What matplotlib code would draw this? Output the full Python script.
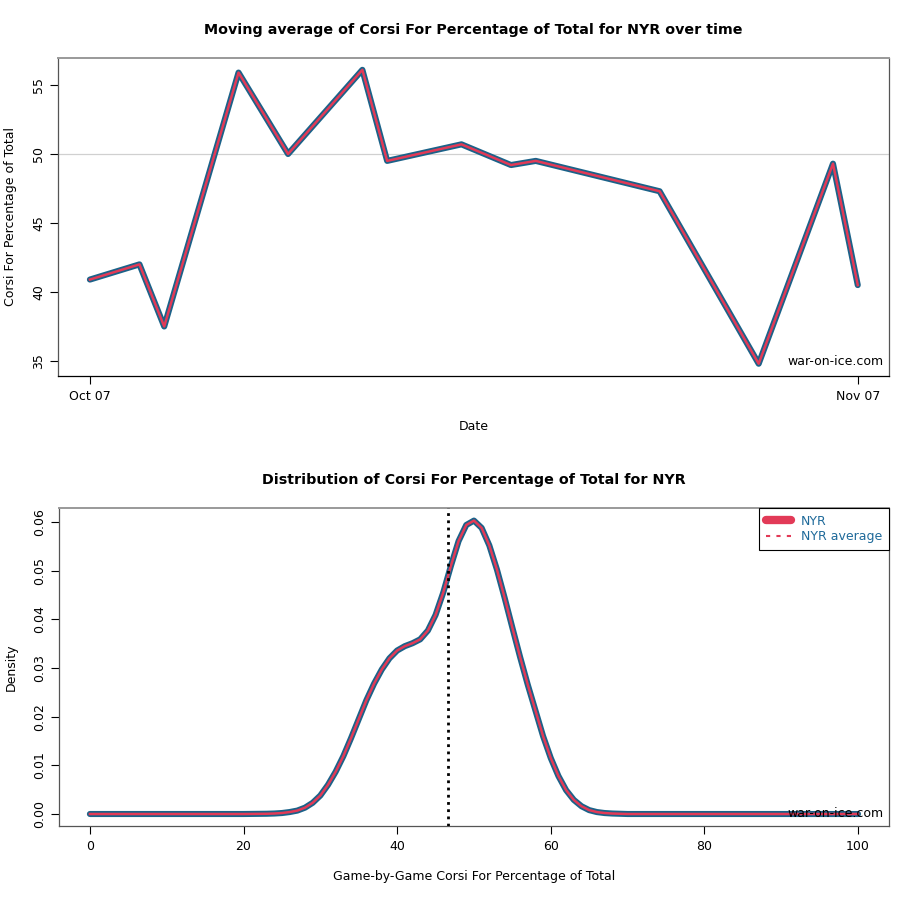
import matplotlib
matplotlib.use('Agg')
import matplotlib.pyplot as plt
import matplotlib.dates as mdates
from datetime import datetime

# moving average data
game_dates = ['2014-10-07', '2014-10-09', '2014-10-10', '2014-10-13', '2014-10-15',
              '2014-10-18', '2014-10-19', '2014-10-22', '2014-10-24', '2014-10-25',
              '2014-10-30', '2014-11-03', '2014-11-06', '2014-11-07']
moving_avg = [40.9, 42.0, 37.5, 55.9, 50.0, 56.1, 49.5, 50.7, 49.2, 49.5,
              47.3, 34.8, 49.3, 40.5]

# density curve
dens_x = [0, 10, 20, 23, 24, 25, 26, 27, 28, 29, 30, 31, 32, 33, 34, 35, 36, 37, 38, 39,
          40, 41, 42, 43, 44, 45, 46, 47, 48, 49, 50, 51, 52, 53, 54, 55, 56, 57,
          58, 59, 60, 61, 62, 63, 64, 65, 66, 67, 68, 69, 70, 80, 90, 100]
dens_y = [0.0, 0.0, 0.0, 0.00005, 0.0001, 0.0002, 0.0004, 0.0007, 0.0013, 0.0023,
          0.0038, 0.0060, 0.0087, 0.0119, 0.0156, 0.0195, 0.0234, 0.0268, 0.0297,
          0.0320, 0.0336, 0.0345, 0.0351, 0.0359, 0.0377, 0.0409, 0.0455, 0.0510,
          0.0561, 0.0594, 0.0603, 0.0588, 0.0552, 0.0502, 0.0444, 0.0383, 0.0323,
          0.0266, 0.0213, 0.0160, 0.0115, 0.0078, 0.0049, 0.0029, 0.0016, 0.0008,
          0.0004, 0.0002, 0.0001, 0.00005, 0.0, 0.0, 0.0, 0.0]
team_avg = 46.6

blue = '#1b6289'
red = '#e23a57'
txtblue = '#1f6a9a'

dates = [datetime.strptime(d, '%Y-%m-%d') for d in game_dates]

fig = plt.figure(figsize=(9.2, 9), dpi=100)

# ---- top: moving average
ax1 = fig.add_axes([0.063, 0.5822, 0.903, 0.3534])
ax1.axhline(50, color='#d0d0d0', lw=0.9, zorder=1)
ax1.plot(dates, moving_avg, color=blue, lw=4.4, solid_joinstyle='round',
         solid_capstyle='round', zorder=2)
ax1.plot(dates, moving_avg, color=red, lw=1.8, solid_joinstyle='round', zorder=3)
ax1.set_xlim(mdates.date2num(dates[0]) - 1.29, mdates.date2num(dates[-1]) + 1.25)
ax1.set_ylim(33.91, 56.96)
ax1.set_xticks([dates[0], dates[-1]])
ax1.xaxis.set_major_formatter(mdates.DateFormatter('%b %d'))
ax1.set_yticks([35, 40, 45, 50, 55])
ax1.axvspan(0, 0.008, transform=ax1.transAxes, color='#ececec', zorder=0)
ax1.set_title('Moving average of Corsi For Percentage of Total for NYR over time',
              fontsize=10.3, fontweight='bold', pad=17)
ax1.set_xlabel('Date', fontsize=9, labelpad=12)
ax1.set_ylabel('Corsi For Percentage of Total', fontsize=9, labelpad=11)
ax1.text(0.994, 0.025, 'war-on-ice.com', transform=ax1.transAxes, ha='right',
         va='bottom', fontsize=9)
for lab in ax1.get_yticklabels():
    lab.set_rotation(90)
    lab.set_va('center')

# ---- bottom: density
ax2 = fig.add_axes([0.064, 0.0822, 0.902, 0.3534])
ax2.plot(dens_x, dens_y, color=blue, lw=4.4, solid_joinstyle='round',
         solid_capstyle='round', zorder=2)
ax2.plot(dens_x, dens_y, color=red, lw=1.8, solid_joinstyle='round', zorder=3)
ax2.axvline(team_avg, color='black', lw=2, ls=(0, (1, 1.6)), zorder=4)
ax2.set_xlim(-4.04, 104.0)
ax2.set_ylim(-0.00247, 0.0629)
ax2.set_xticks([0, 20, 40, 60, 80, 100])
ax2.set_yticks([0.0, 0.01, 0.02, 0.03, 0.04, 0.05, 0.06])
ax2.set_yticklabels(['0.00', '0.01', '0.02', '0.03', '0.04', '0.05', '0.06'])
ax2.set_title('Distribution of Corsi For Percentage of Total for NYR',
              fontsize=10.3, fontweight='bold', pad=17)
ax2.set_xlabel('Game-by-Game Corsi For Percentage of Total', fontsize=9, labelpad=12)
ax2.set_ylabel('Density', fontsize=9, labelpad=11)
ax2.text(0.994, 0.02, 'war-on-ice.com', transform=ax2.transAxes, ha='right',
         va='bottom', fontsize=9)
for lab in ax2.get_yticklabels():
    lab.set_rotation(90)
    lab.set_va('center')

h1, = ax2.plot([], [], color=red, lw=6, solid_capstyle='round')
h2, = ax2.plot([], [], color=red, lw=1.5, ls=(0, (2, 3)))
leg = ax2.legend([h1, h2], ['NYR', 'NYR average'], loc='upper right', fontsize=9,
                 fancybox=False, framealpha=1, edgecolor='black', borderaxespad=0,
                 handlelength=2.0, labelspacing=0.2, borderpad=0.55, handletextpad=0.8)
leg.get_frame().set_linewidth(0.8)
for t in leg.get_texts():
    t.set_color(txtblue)

for ax in (ax1, ax2):
    ax.tick_params(direction='out', length=6, width=0.8, labelsize=9, pad=4,
                   colors='black')
    ax.tick_params(axis='y', pad=3)
    for s in ax.spines.values():
        s.set_color('#555555')
        s.set_linewidth(0.9)
    ax.spines['top'].set_color('#999999')
    ax.spines['top'].set_linewidth(1.4)
ax1.spines['bottom'].set_color('black')

fig.savefig('out.png', dpi=100)
